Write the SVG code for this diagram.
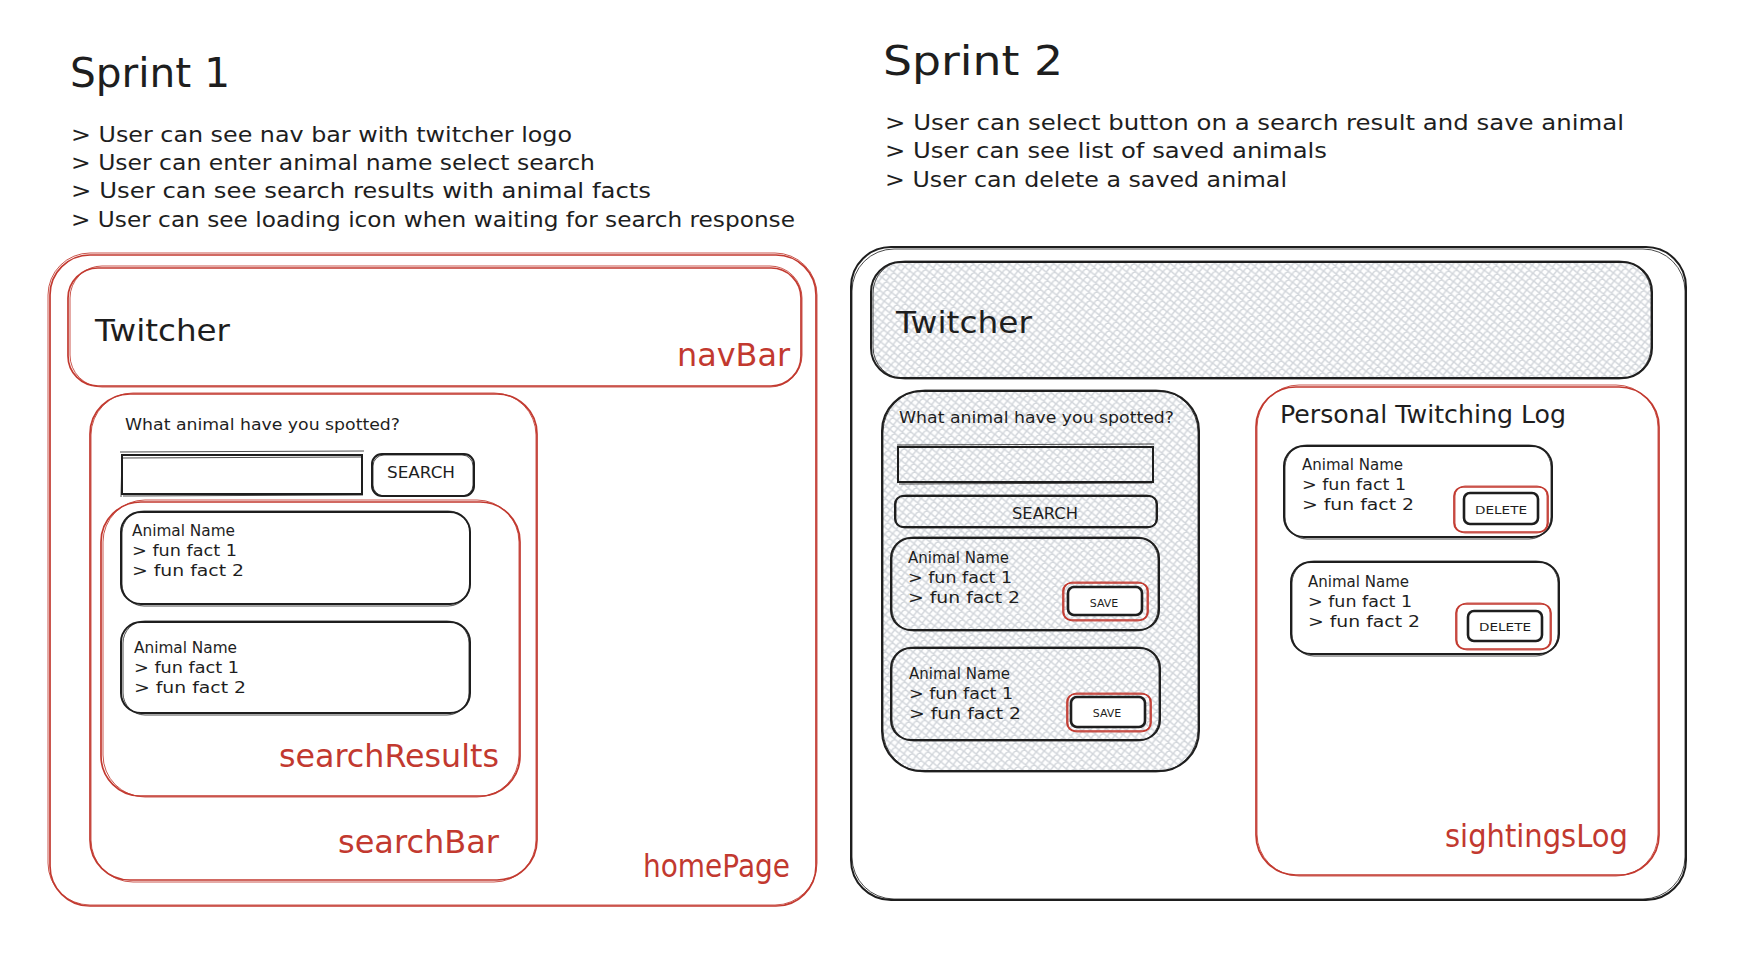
<svg xmlns="http://www.w3.org/2000/svg" width="1746" height="966" viewBox="0 0 1746 966">
  <defs>
    <pattern id="hatch" width="8" height="8" patternUnits="userSpaceOnUse" patternTransform="rotate(-6)">
      <path d="M0 0 L8 8 M8 0 L0 8 M-1 7 L1 9 M7 -1 L9 1 M-1 1 L1 -1 M7 9 L9 7" stroke="#d2d6db" stroke-width="1.5" fill="none"/>
    </pattern>
    <style>
      .t { font-family: "DejaVu Sans", "Liberation Sans", sans-serif; fill: #1e1e1e; }
      .h1 { font-size: 40px; }
      .story { font-size: 21px; }
      .logo { font-size: 30px; }
      .lbl { font-size: 32px; fill: #c2392f; }
      .sm { font-size: 16px; }
      .btn { font-size: 16px; }
      .tiny { font-size: 11px; text-anchor: middle; }
      .red { stroke: #c2392f; fill: none; stroke-width: 1.7; }
      .red2 { stroke: #c2392f; fill: none; stroke-width: 1; opacity: 0.85; }
      .blk { stroke: #1e1e1e; fill: none; stroke-width: 2; }
      .blk2 { stroke: #1e1e1e; fill: none; stroke-width: 1; opacity: 0.8; }
      .bold { stroke: #1e1e1e; fill: #ffffff; stroke-width: 2.6; }
      .hat { fill: url(#hatch); stroke: none; }
    </style>
  </defs>

  <rect width="1746" height="966" fill="#ffffff"/>

  <!-- ===== Sprint 1 ===== -->
  <g id="sprint1-title">
    <text class="t h1" x="70" y="87" textLength="160" lengthAdjust="spacingAndGlyphs">Sprint 1</text>
  </g>
  <g id="sprint1-stories">
    <text class="t story" x="71" y="142" textLength="501" lengthAdjust="spacingAndGlyphs">&gt; User can see nav bar with twitcher logo</text>
    <text class="t story" x="71" y="170" textLength="524" lengthAdjust="spacingAndGlyphs">&gt; User can enter animal name select search</text>
    <text class="t story" x="71" y="198" textLength="580" lengthAdjust="spacingAndGlyphs">&gt; User can see search results with animal facts</text>
    <text class="t story" x="71" y="227" textLength="724" lengthAdjust="spacingAndGlyphs">&gt; User can see loading icon when waiting for search response</text>
  </g>

  <g id="homePage">
    <rect class="red" x="50" y="255" width="766" height="651" rx="40"/>
    <rect class="red2" x="48" y="253" width="769" height="652" rx="42"/>
    <text class="t lbl" x="643" y="877" textLength="147" lengthAdjust="spacingAndGlyphs">homePage</text>
  </g>

  <g id="navBar">
    <rect class="red" x="68" y="268" width="733" height="118" rx="30"/>
    <rect class="red2" x="70" y="266" width="732" height="121" rx="32"/>
    <text class="t logo" x="95" y="341" textLength="135" lengthAdjust="spacingAndGlyphs">Twitcher</text>
    <text class="t lbl" x="677" y="366" textLength="113" lengthAdjust="spacingAndGlyphs">navBar</text>
  </g>

  <g id="searchBar">
    <rect class="red" x="90" y="394" width="447" height="486" rx="40"/>
    <rect class="red2" x="91" y="393" width="445" height="489" rx="42"/>
    <text class="t sm" x="125" y="430" textLength="275" lengthAdjust="spacingAndGlyphs">What animal have you spotted?</text>
    <text class="t lbl" x="338" y="853" textLength="161" lengthAdjust="spacingAndGlyphs">searchBar</text>
  </g>

  <g id="searchInput">
    <rect class="blk" x="122" y="455" width="240" height="39"/>
    <path class="blk2" d="M120 452 L364 451 M121 458 L361 457 M123 496 L363 495 M122 454 L121 497"/>
  </g>

  <g id="searchButton">
    <rect class="blk" x="372" y="454" width="102" height="42" rx="10"/>
    <rect class="blk2" x="373" y="455" width="100" height="41" rx="11"/>
    <text class="t btn" x="387" y="478" textLength="68" lengthAdjust="spacingAndGlyphs">SEARCH</text>
  </g>

  <g id="searchResults">
    <rect class="red" x="101" y="502" width="419" height="294" rx="40"/>
    <rect class="red2" x="103" y="500" width="416" height="297" rx="42"/>
    <text class="t lbl" x="279" y="767" textLength="220" lengthAdjust="spacingAndGlyphs">searchResults</text>
  </g>

  <g id="resultCard1">
    <rect class="blk" x="121" y="512" width="349" height="92" rx="20"/>
    <rect class="blk2" x="122" y="511" width="348" height="95" rx="22"/>
    <text class="t sm" x="132" y="536" textLength="103" lengthAdjust="spacingAndGlyphs">Animal Name</text>
    <text class="t sm" x="132" y="556" textLength="105" lengthAdjust="spacingAndGlyphs">&gt; fun fact 1</text>
    <text class="t sm" x="132" y="576" textLength="112" lengthAdjust="spacingAndGlyphs">&gt; fun fact 2</text>
  </g>

  <g id="resultCard2">
    <rect class="blk" x="121" y="622" width="349" height="91" rx="20"/>
    <rect class="blk2" x="123" y="621" width="346" height="94" rx="22"/>
    <text class="t sm" x="134" y="653" textLength="103" lengthAdjust="spacingAndGlyphs">Animal Name</text>
    <text class="t sm" x="134" y="673" textLength="105" lengthAdjust="spacingAndGlyphs">&gt; fun fact 1</text>
    <text class="t sm" x="134" y="693" textLength="112" lengthAdjust="spacingAndGlyphs">&gt; fun fact 2</text>
  </g>

  <!-- ===== Sprint 2 ===== -->
  <g id="sprint2-title">
    <text class="t h1" x="883" y="75" textLength="180" lengthAdjust="spacingAndGlyphs">Sprint 2</text>
  </g>
  <g id="sprint2-stories">
    <text class="t story" x="885" y="130" textLength="739" lengthAdjust="spacingAndGlyphs">&gt; User can select button on a search result and save animal</text>
    <text class="t story" x="885" y="158" textLength="442" lengthAdjust="spacingAndGlyphs">&gt; User can see list of saved animals</text>
    <text class="t story" x="885" y="187" textLength="402" lengthAdjust="spacingAndGlyphs">&gt; User can delete a saved animal</text>
  </g>

  <g id="page2">
    <rect class="blk" x="851" y="247" width="835" height="653" rx="40"/>
    <rect class="blk2" x="852" y="249" width="833" height="650" rx="42"/>
  </g>

  <g id="navBar2">
    <rect class="hat" x="871" y="262" width="781" height="116" rx="30"/>
    <rect class="blk" x="871" y="262" width="781" height="116" rx="30"/>
    <rect class="blk2" x="873" y="261" width="778" height="118" rx="32"/>
    <text class="t logo" x="896" y="333" textLength="136" lengthAdjust="spacingAndGlyphs">Twitcher</text>
  </g>

  <g id="searchPanel2">
    <rect class="hat" x="882" y="391" width="317" height="380" rx="40"/>
    <rect class="blk" x="882" y="391" width="317" height="380" rx="40"/>
    <rect class="blk2" x="883" y="390" width="315" height="382" rx="42"/>
    <text class="t sm" x="899" y="423" textLength="275" lengthAdjust="spacingAndGlyphs">What animal have you spotted?</text>
  </g>

  <g id="searchInput2">
    <rect class="blk" x="898" y="447" width="255" height="35"/>
    <path class="blk2" d="M897 445 L1154 444 M899 484 L1152 483"/>
  </g>

  <g id="searchButton2">
    <rect class="blk" x="895" y="496" width="262" height="31" rx="8"/>
    <rect class="blk2" x="896" y="495" width="260" height="33" rx="9"/>
    <text class="t btn" x="1012" y="519" textLength="66" lengthAdjust="spacingAndGlyphs">SEARCH</text>
  </g>

  <g id="resultCard2a">
    <rect class="blk" x="891" y="538" width="268" height="92" rx="20"/>
    <rect class="blk2" x="892" y="537" width="266" height="94" rx="22"/>
    <text class="t sm" x="908" y="563" textLength="101" lengthAdjust="spacingAndGlyphs">Animal Name</text>
    <text class="t sm" x="908" y="583" textLength="104" lengthAdjust="spacingAndGlyphs">&gt; fun fact 1</text>
    <text class="t sm" x="908" y="603" textLength="112" lengthAdjust="spacingAndGlyphs">&gt; fun fact 2</text>
  </g>
  <g id="saveButton1">
    <rect class="red" x="1063" y="583" width="85" height="37" rx="8"/>
    <rect class="red2" x="1064" y="582" width="83" height="39" rx="9"/>
    <rect class="bold" x="1068" y="587" width="74" height="28" rx="6"/>
    <text class="t tiny" x="1104" y="607">SAVE</text>
  </g>

  <g id="resultCard2b">
    <rect class="blk" x="891" y="648" width="269" height="92" rx="20"/>
    <rect class="blk2" x="892" y="647" width="267" height="94" rx="22"/>
    <text class="t sm" x="909" y="679" textLength="101" lengthAdjust="spacingAndGlyphs">Animal Name</text>
    <text class="t sm" x="909" y="699" textLength="104" lengthAdjust="spacingAndGlyphs">&gt; fun fact 1</text>
    <text class="t sm" x="909" y="719" textLength="112" lengthAdjust="spacingAndGlyphs">&gt; fun fact 2</text>
  </g>
  <g id="saveButton2">
    <rect class="red" x="1067" y="694" width="84" height="37" rx="8"/>
    <rect class="red2" x="1068" y="693" width="82" height="39" rx="9"/>
    <rect class="bold" x="1071" y="697" width="74" height="30" rx="6"/>
    <text class="t tiny" x="1107" y="717">SAVE</text>
  </g>

  <g id="sightingsLog">
    <rect class="red" x="1256" y="387" width="403" height="488" rx="40"/>
    <rect class="red2" x="1257" y="385" width="401" height="491" rx="42"/>
    <text class="t" x="1280" y="423" font-size="25" textLength="286" lengthAdjust="spacingAndGlyphs">Personal Twitching Log</text>
    <text class="t lbl" x="1445" y="847" textLength="183" lengthAdjust="spacingAndGlyphs">sightingsLog</text>
  </g>

  <g id="logCard1">
    <rect class="blk" x="1284" y="446" width="268" height="91" rx="20"/>
    <rect class="blk2" x="1285" y="445" width="266" height="94" rx="22"/>
    <text class="t sm" x="1302" y="470" textLength="101" lengthAdjust="spacingAndGlyphs">Animal Name</text>
    <text class="t sm" x="1302" y="490" textLength="104" lengthAdjust="spacingAndGlyphs">&gt; fun fact 1</text>
    <text class="t sm" x="1302" y="510" textLength="112" lengthAdjust="spacingAndGlyphs">&gt; fun fact 2</text>
  </g>
  <g id="deleteButton1">
    <rect class="red" x="1454" y="487" width="94" height="45" rx="9"/>
    <rect class="red2" x="1455" y="486" width="92" height="47" rx="10"/>
    <rect class="bold" x="1464" y="493" width="74" height="31" rx="6"/>
    <text class="t tiny" x="1501" y="514" textLength="52" lengthAdjust="spacingAndGlyphs">DELETE</text>
  </g>

  <g id="logCard2">
    <rect class="blk" x="1291" y="562" width="268" height="92" rx="20"/>
    <rect class="blk2" x="1292" y="561" width="266" height="95" rx="22"/>
    <text class="t sm" x="1308" y="587" textLength="101" lengthAdjust="spacingAndGlyphs">Animal Name</text>
    <text class="t sm" x="1308" y="607" textLength="104" lengthAdjust="spacingAndGlyphs">&gt; fun fact 1</text>
    <text class="t sm" x="1308" y="627" textLength="112" lengthAdjust="spacingAndGlyphs">&gt; fun fact 2</text>
  </g>
  <g id="deleteButton2">
    <rect class="red" x="1456" y="604" width="95" height="45" rx="9"/>
    <rect class="red2" x="1457" y="603" width="93" height="47" rx="10"/>
    <rect class="bold" x="1468" y="611" width="74" height="30" rx="6"/>
    <text class="t tiny" x="1505" y="631" textLength="52" lengthAdjust="spacingAndGlyphs">DELETE</text>
  </g>

  <g id="connectors"/>
</svg>
